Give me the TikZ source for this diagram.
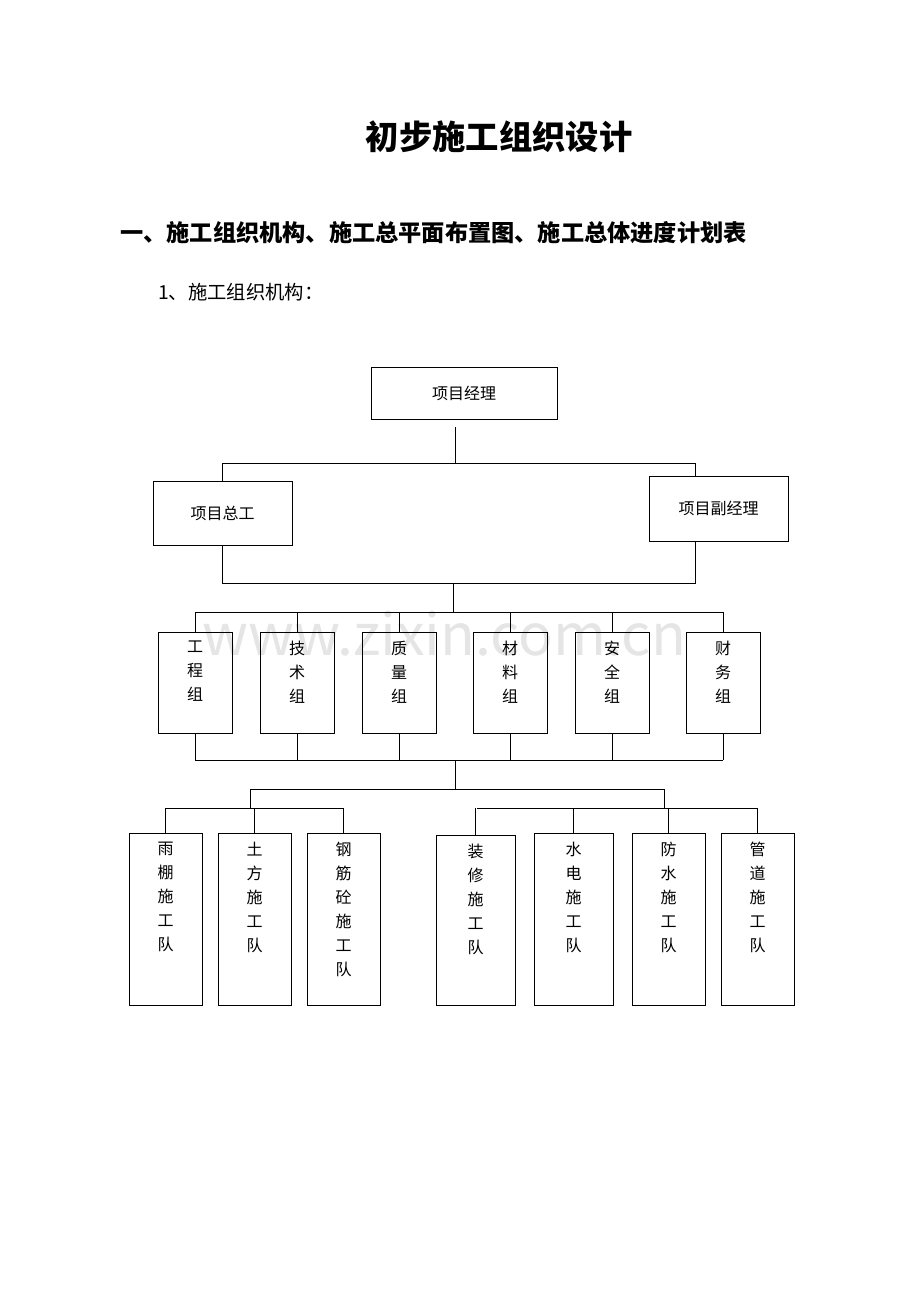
\documentclass[tikz,border=0pt]{standalone}
\usepackage{fontspec}
\setmainfont{Noto Sans CJK SC}
\begin{document}
\begin{tikzpicture}[x=0.75pt,y=-0.75pt,
  box/.style={draw,line width=0.7pt,inner sep=0,outer sep=0},
  ln/.style={line width=0.7pt},
  vt/.style={anchor=north,align=center,font=\fontsize{12pt}{18pt}\selectfont,inner sep=0}]
\useasboundingbox[fill=white] (0,0) rectangle (920,1302);
\node (title) at (499,137) {\fontsize{25pt}{28pt}\selectfont\bfseries 初步施工组织设计};
\node[anchor=west,inner sep=0] (h1) at (120,233) {\fontsize{17.4pt}{20pt}\selectfont\bfseries 一、施工组织机构、施工总平面布置图、施工总体进度计划表};
\node[anchor=west,inner sep=0] (h2) at (158,292) {\fontsize{14.5pt}{18pt}\selectfont 1、施工组织机构：};
\node[text=gray!20] (wm) at (444,634) {\fontsize{43pt}{46pt}\selectfont www.zixin.com.cn};
% top
\node[box,minimum width=186*0.75pt,minimum height=52*0.75pt,font=\fontsize{12pt}{14pt}\selectfont] (pm) at (464,393) {项目经理};
\node[box,minimum width=139*0.75pt,minimum height=64*0.75pt,font=\fontsize{12pt}{14pt}\selectfont] (zg) at (222.5,513) {项目总工};
\node[box,minimum width=139*0.75pt,minimum height=65*0.75pt,font=\fontsize{12pt}{14pt}\selectfont] (fj) at (718.5,508.5) {项目副经理};
\coordinate (a1) at (455,427); \coordinate (a2) at (455,463);
\coordinate (a3) at (222,463); \coordinate (a4) at (695,463);
\draw[ln] (a1)--(a2); \draw[ln] (zg.north -| a3)--(a3)--(a4)--(fj.north -| a4);
\coordinate (b1) at (222,583); \coordinate (b2) at (695,583);
\draw[ln] (zg.south -| b1)--(b1)--(b2)--(fj.south -| b2);
\coordinate (b3) at (453,583); \coordinate (b4) at (453,612);
\draw[ln] (b3)--(b4);
\draw[ln] (195,612)--(723,612);
\draw[ln] (195,760)--(723,760);
\foreach \n/\x/\t in {g1/195/工\\程\\组,g2/297/技\\术\\组,g3/399/质\\量\\组,g4/510/材\\料\\组,g5/612/安\\全\\组,g6/723/财\\务\\组}{
  \node[box,minimum width=74*0.75pt,minimum height=101*0.75pt] (\n) at (\x,682.5) {};
  \node[vt] (\n t) at (\x,641) {\t};
  \draw[ln] (\x,612)--(\n.north);
  \draw[ln] (\n.south)--(\x,760);
}
\coordinate (c1) at (455,760); \coordinate (c2) at (455,789);
\draw[ln] (c1)--(c2);
\draw[ln] (250,789)--(664,789);
\draw[ln] (250,789)--(250,808); \draw[ln] (664,789)--(664,808);
\draw[ln] (165,808)--(344,808);
\draw[ln] (477,808)--(757,808);
\foreach \n/\x/\w/\top/\t in {t1/165.5/73/833/雨\\棚\\施\\工\\队,t2/254.5/73/833/土\\方\\施\\工\\队,t3/343.5/73/833/钢\\筋\\砼\\施\\工\\队,t4/475.5/79/835/装\\修\\施\\工\\队,t5/573.5/79/833/水\\电\\施\\工\\队,t6/668.5/73/833/防\\水\\施\\工\\队,t7/757.5/73/833/管\\道\\施\\工\\队}{
  \node[box,anchor=north,minimum width=\w*0.75pt,minimum height={(1005-\top)*0.75pt}] (\n) at (\x,\top) {};
  \node[vt] (\n t) at (\x,\top+9) {\t};
  \draw[ln] (\n.north)--(\n.north |- 0,808);
}
\end{tikzpicture}
\end{document}
